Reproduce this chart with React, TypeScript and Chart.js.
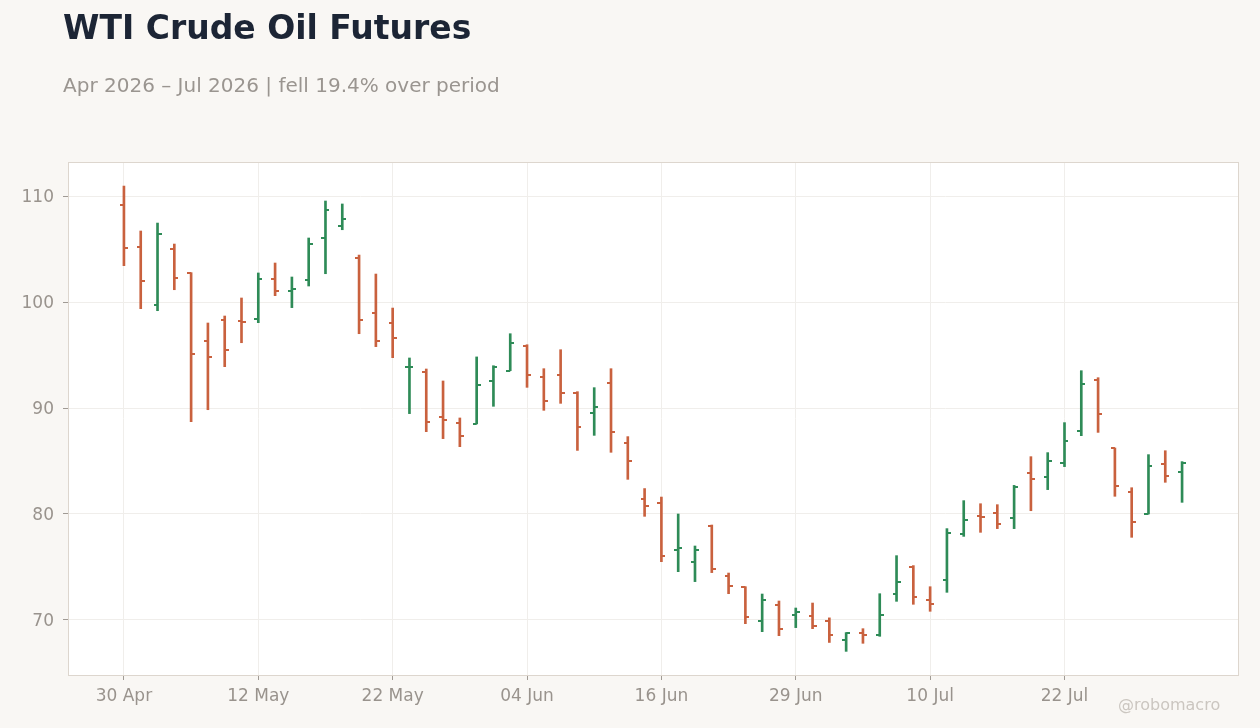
import { useEffect, useRef } from 'react';
import { Chart, registerables } from 'chart.js';

Chart.register(...registerables);

// trading days, 30 Apr – 31 Jul 2026
const dates = [
    '30 Apr', '01 May', '04 May', '05 May', '06 May', '07 May', '08 May', '11 May',
    '12 May', '13 May', '14 May', '15 May', '18 May', '19 May', '20 May', '21 May',
    '22 May', '26 May', '27 May', '28 May', '29 May', '01 Jun', '02 Jun', '03 Jun',
    '04 Jun', '05 Jun', '08 Jun', '09 Jun', '10 Jun', '11 Jun', '12 Jun', '15 Jun',
    '16 Jun', '17 Jun', '18 Jun', '22 Jun', '23 Jun', '24 Jun', '25 Jun', '26 Jun',
    '29 Jun', '30 Jun', '01 Jul', '02 Jul', '06 Jul', '07 Jul', '08 Jul', '09 Jul',
    '10 Jul', '13 Jul', '14 Jul', '15 Jul', '16 Jul', '17 Jul', '20 Jul', '21 Jul',
    '22 Jul', '23 Jul', '24 Jul', '27 Jul', '28 Jul', '29 Jul', '30 Jul', '31 Jul'
];

const opens = [
    109.18, 105.22, 99.75, 105.03, 102.77, 96.35, 98.33, 98.24,
    98.43, 102.20, 101.07, 102.11, 106.07, 107.20, 104.18, 98.99,
    98.05, 93.85, 93.43, 89.18, 88.62, 88.50, 92.52, 93.52,
    95.82, 92.89, 93.08, 91.38, 89.50, 92.33, 86.67, 81.42,
    81.07, 76.60, 75.50, 78.90, 74.18, 73.11, 69.94, 71.45,
    70.47, 70.41, 69.94, 68.08, 68.74, 68.55, 72.42, 74.97,
    71.86, 73.74, 78.08, 79.81, 80.06, 79.58, 83.84, 83.52,
    84.78, 87.80, 92.61, 86.23, 82.04, 80.00, 84.69, 83.93
];

const highs = [
    110.94, 106.70, 107.45, 105.47, 102.77, 98.02, 98.68, 100.38,
    102.74, 103.68, 102.36, 106.04, 109.53, 109.25, 104.43, 102.64,
    99.43, 94.72, 93.68, 92.55, 89.06, 94.82, 93.99, 97.01,
    95.97, 93.71, 95.50, 91.54, 91.92, 93.71, 87.30, 82.40,
    81.60, 80.00, 76.98, 78.96, 74.43, 73.14, 72.45, 71.79,
    71.13, 71.60, 70.20, 68.81, 69.18, 72.48, 76.07, 75.13,
    73.14, 78.62, 81.26, 80.97, 80.88, 82.70, 85.41, 85.79,
    88.62, 93.52, 92.86, 86.23, 82.48, 85.60, 85.97, 84.94
];

const lows = [
    103.43, 99.37, 99.18, 101.16, 88.71, 89.84, 93.90, 96.16,
    98.05, 100.60, 99.47, 101.51, 102.67, 106.82, 97.01, 95.79,
    94.75, 89.47, 87.77, 87.11, 86.35, 88.50, 90.16, 93.52,
    91.95, 89.78, 90.44, 86.00, 87.42, 85.82, 83.27, 79.78,
    75.50, 74.56, 73.62, 74.47, 72.48, 69.65, 68.90, 68.52,
    69.28, 69.18, 67.88, 67.04, 67.80, 68.46, 71.76, 71.48,
    70.82, 72.61, 77.89, 78.27, 78.62, 78.62, 80.31, 82.30,
    84.47, 87.39, 87.70, 81.67, 77.80, 80.00, 82.99, 81.10
];

const closes = [
    105.13, 101.98, 106.45, 102.30, 95.13, 94.84, 95.50, 98.14,
    102.20, 101.04, 101.26, 105.50, 108.71, 107.86, 98.33, 96.35,
    96.64, 93.90, 88.71, 88.90, 87.39, 92.21, 93.84, 96.10,
    93.08, 90.63, 91.38, 88.24, 90.06, 87.77, 84.97, 80.78,
    76.07, 76.82, 76.60, 74.81, 73.24, 70.31, 71.92, 69.18,
    70.79, 69.47, 68.54, 68.74, 68.55, 70.44, 73.55, 72.14,
    71.48, 78.18, 79.40, 79.69, 79.03, 82.52, 83.27, 84.97,
    86.86, 92.23, 89.40, 82.61, 79.28, 84.50, 83.62, 84.78
];

const xTickIdx = [0, 8, 16, 24, 32, 40, 48, 56];
const yTicks = [70, 80, 90, 100, 110];

const UP = '#2e8b57';
const DOWN = '#c9613e';
const FONT = "'DejaVu Sans', sans-serif";

function tickImage(color: string, side: 'left' | 'right') {
    const c = document.createElement('canvas');
    c.width = 8;
    c.height = 2;
    const g = c.getContext('2d')!;
    g.fillStyle = color;
    g.fillRect(side === 'left' ? 0 : 4, 0, 4, 2);
    return c;
}

const plotFrame = {
    id: 'plotFrame',
    beforeDraw(chart: any) {
        const { ctx, chartArea: a } = chart;
        ctx.save();
        ctx.fillStyle = '#ffffff';
        ctx.fillRect(a.left, a.top, a.right - a.left, a.bottom - a.top);
        ctx.restore();
    },
    beforeDatasetsDraw(chart: any) {
        const { ctx, chartArea: a } = chart;
        ctx.save();
        ctx.strokeStyle = '#ddd6ce';
        ctx.lineWidth = 1;
        ctx.strokeRect(a.left + 0.5, a.top + 0.5, a.right - a.left, a.bottom - a.top);
        ctx.restore();
    }
};

function OhlcChart() {
    const canvasRef = useRef<HTMLCanvasElement>(null);
    const chartRef = useRef<Chart | null>(null);

    useEffect(() => {
        if (!canvasRef.current) return;
        const ctx = canvasRef.current.getContext('2d');
        if (!ctx) return;

        if (chartRef.current) chartRef.current.destroy();

        const idx = dates.map((_, i) => i);
        const isUp = (i: number) => closes[i] >= opens[i];
        const openUp = tickImage(UP, 'left');
        const openDown = tickImage(DOWN, 'left');
        const closeUp = tickImage(UP, 'right');
        const closeDown = tickImage(DOWN, 'right');

        const grid = {
            color: '#f0eeeb',
            tickColor: '#a09a94',
            tickLength: 5,
            lineWidth: 1,
            offset: false
        };
        const tickFont = { family: FONT, size: 17 };

        chartRef.current = new Chart(ctx, {
            type: 'bar',
            data: {
                datasets: [
                    {
                        type: 'bar',
                        data: idx.map(i => ({ x: i, y: [lows[i], highs[i]] })) as any,
                        backgroundColor: idx.map(i => isUp(i) ? UP : DOWN),
                        borderWidth: 0,
                        barThickness: 2,
                        grouped: false
                    },
                    {
                        type: 'scatter',
                        data: idx.map(i => ({ x: i, y: opens[i] })),
                        pointRadius: 3,
                        pointStyle: (c: any) => isUp(c.dataIndex) ? openUp : openDown
                    },
                    {
                        type: 'scatter',
                        data: idx.map(i => ({ x: i, y: closes[i] })),
                        pointRadius: 3,
                        pointStyle: (c: any) => isUp(c.dataIndex) ? closeUp : closeDown
                    }
                ] as any
            },
            options: {
                animation: false,
                responsive: true,
                maintainAspectRatio: false,
                events: [],
                layout: { padding: { top: 162, right: 22, left: 0, bottom: 0 } },
                plugins: {
                    legend: { display: false },
                    tooltip: { enabled: false }
                },
                scales: {
                    x: {
                        type: 'linear',
                        min: -3.33,
                        max: 66.33,
                        offset: false,
                        grid,
                        border: { display: false },
                        afterBuildTicks: (axis: any) => {
                            axis.ticks = xTickIdx.map(v => ({ value: v }));
                        },
                        afterFit: (axis: any) => { axis.height = 53; },
                        ticks: {
                            color: '#99938d',
                            font: tickFont,
                            padding: 6,
                            maxRotation: 0,
                            autoSkip: false,
                            callback: (v: any) => dates[v]
                        }
                    },
                    y: {
                        type: 'linear',
                        min: 64.81,
                        max: 113.21,
                        grid,
                        border: { display: false },
                        afterBuildTicks: (axis: any) => {
                            axis.ticks = yTicks.map(v => ({ value: v }));
                        },
                        afterFit: (axis: any) => { axis.width = 68; },
                        ticks: {
                            color: '#99938d',
                            font: tickFont,
                            padding: 9,
                            labelOffset: 1.5
                        }
                    }
                }
            } as any,
            plugins: [plotFrame]
        });

        return () => {
            if (chartRef.current) {
                chartRef.current.destroy();
                chartRef.current = null;
            }
        };
    }, []);

    return <canvas ref={canvasRef} />;
}

export default function App() {
    useEffect(() => {
        document.body.style.margin = '0';
    }, []);

    return (
        <div style={{ position: 'relative', width: 1260, height: 728, background: '#f9f7f4', overflow: 'hidden', fontFamily: FONT }}>
            <div style={{ position: 'absolute', left: 0, top: 0, width: 1260, height: 728 }}>
                <OhlcChart />
            </div>
            <div style={{ position: 'absolute', left: 63, top: 11, fontSize: 33, lineHeight: '33px', fontWeight: 'bold', color: '#1c2535', whiteSpace: 'nowrap' }}>
                WTI Crude Oil Futures
            </div>
            <div style={{ position: 'absolute', left: 63, top: 75, fontSize: 20, lineHeight: '20px', color: '#9a9590', whiteSpace: 'nowrap' }}>
                Apr 2026 – Jul 2026 | fell 19.4% over period
            </div>
            <div style={{ position: 'absolute', left: 1118, top: 697, fontSize: 16, lineHeight: '16px', color: '#cbc6c0', whiteSpace: 'nowrap' }}>
                @robomacro
            </div>
        </div>
    );
}
